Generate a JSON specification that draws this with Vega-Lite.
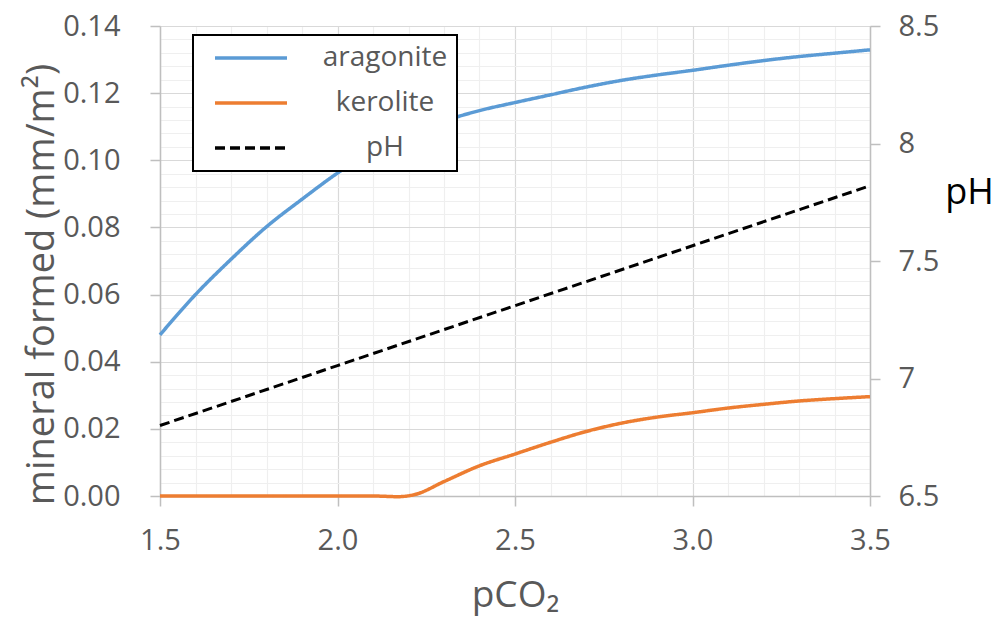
{
  "$schema": "https://vega.github.io/schema/vega-lite/v6.json",
  "width": 710,
  "height": 470,
  "autosize": {"type": "none"},
  "padding": {"left": 160, "top": 26, "right": 128, "bottom": 124},
  "background": "white",
  "config": {
    "view": {"stroke": null},
    "font": "Open Sans",
    "axis": {
      "labelFont": "Open Sans",
      "titleFont": "Open Sans",
      "labelColor": "#595959",
      "titleColor": "#595959",
      "labelFontSize": 29,
      "labelFlush": false,
      "labelOverlap": false,
      "domainColor": "#bfbfbf",
      "tickColor": "#bfbfbf",
      "gridColor": "#d9d9d9",
      "domainWidth": 1.5,
      "tickWidth": 1.5,
      "gridWidth": 1.2,
      "tickSize": 10,
      "titleFontWeight": "normal"
    }
  },
  "datasets": {
    "minerals": [
      {"pco2": 1.5, "value": 0.048, "series": "aragonite"},
      {"pco2": 1.6, "value": 0.0600, "series": "aragonite"},
      {"pco2": 1.7, "value": 0.0705, "series": "aragonite"},
      {"pco2": 1.8, "value": 0.0802, "series": "aragonite"},
      {"pco2": 1.9, "value": 0.0884, "series": "aragonite"},
      {"pco2": 2.0, "value": 0.0962, "series": "aragonite"},
      {"pco2": 2.1, "value": 0.1030, "series": "aragonite"},
      {"pco2": 2.2, "value": 0.1078, "series": "aragonite"},
      {"pco2": 2.3, "value": 0.1117, "series": "aragonite"},
      {"pco2": 2.4, "value": 0.1148, "series": "aragonite"},
      {"pco2": 2.5, "value": 0.1172, "series": "aragonite"},
      {"pco2": 2.6, "value": 0.1195, "series": "aragonite"},
      {"pco2": 2.7, "value": 0.1218, "series": "aragonite"},
      {"pco2": 2.8, "value": 0.1238, "series": "aragonite"},
      {"pco2": 2.9, "value": 0.1254, "series": "aragonite"},
      {"pco2": 3.0, "value": 0.1268, "series": "aragonite"},
      {"pco2": 3.1, "value": 0.1283, "series": "aragonite"},
      {"pco2": 3.2, "value": 0.1297, "series": "aragonite"},
      {"pco2": 3.3, "value": 0.1309, "series": "aragonite"},
      {"pco2": 3.4, "value": 0.1319, "series": "aragonite"},
      {"pco2": 3.5, "value": 0.1329, "series": "aragonite"},
      {"pco2": 1.5, "value": 0.0, "series": "kerolite"},
      {"pco2": 1.7, "value": 0.0, "series": "kerolite"},
      {"pco2": 1.9, "value": 0.0, "series": "kerolite"},
      {"pco2": 2.1, "value": 0.0, "series": "kerolite"},
      {"pco2": 2.17, "value": -0.0002, "series": "kerolite"},
      {"pco2": 2.22, "value": 0.0005, "series": "kerolite"},
      {"pco2": 2.3, "value": 0.0043, "series": "kerolite"},
      {"pco2": 2.4, "value": 0.0090, "series": "kerolite"},
      {"pco2": 2.5, "value": 0.0125, "series": "kerolite"},
      {"pco2": 2.6, "value": 0.0160, "series": "kerolite"},
      {"pco2": 2.7, "value": 0.0192, "series": "kerolite"},
      {"pco2": 2.8, "value": 0.0217, "series": "kerolite"},
      {"pco2": 2.9, "value": 0.0235, "series": "kerolite"},
      {"pco2": 3.0, "value": 0.0248, "series": "kerolite"},
      {"pco2": 3.1, "value": 0.0262, "series": "kerolite"},
      {"pco2": 3.2, "value": 0.0273, "series": "kerolite"},
      {"pco2": 3.3, "value": 0.0283, "series": "kerolite"},
      {"pco2": 3.4, "value": 0.0290, "series": "kerolite"},
      {"pco2": 3.5, "value": 0.0296, "series": "kerolite"}
    ],
    "ph": [
      {"pco2": 1.5, "ph": 6.80, "series": "pH"},
      {"pco2": 2.0, "ph": 7.055, "series": "pH"},
      {"pco2": 2.5, "ph": 7.31, "series": "pH"},
      {"pco2": 3.0, "ph": 7.565, "series": "pH"},
      {"pco2": 3.5, "ph": 7.82, "series": "pH"}
    ]
  },
  "layer": [
    {
      "data": {"name": "minerals"},
      "mark": {"type": "line", "opacity": 0},
      "encoding": {
        "x": {
          "field": "pco2", "type": "quantitative",
          "scale": {"domain": [1.5, 3.5], "nice": false, "zero": false},
          "axis": {
            "orient": "bottom", "grid": true, "gridColor": "#efefef", "gridWidth": 1.2,
            "values": [1.6, 1.7, 1.8, 1.9, 2.1, 2.2, 2.3, 2.4, 2.6, 2.7, 2.8, 2.9, 3.1, 3.2, 3.3, 3.4],
            "labels": false, "ticks": false, "domain": false, "title": null
          }
        },
        "y": {
          "field": "value", "type": "quantitative",
          "scale": {"domain": [0, 0.14], "nice": false},
          "axis": {
            "orient": "left", "grid": true, "gridColor": "#efefef", "gridWidth": 1.2,
            "values": [0.004, 0.008, 0.012, 0.016, 0.024, 0.028, 0.032, 0.036, 0.044, 0.048, 0.052, 0.056, 0.064, 0.068, 0.072, 0.076, 0.084, 0.088, 0.092, 0.096, 0.104, 0.108, 0.112, 0.116, 0.124, 0.128, 0.132, 0.136],
            "labels": false, "ticks": false, "domain": false, "title": null
          }
        }
      }
    },
    {
      "data": {"name": "minerals"},
      "mark": {"type": "line", "strokeWidth": 3.5, "interpolate": "monotone"},
      "encoding": {
        "x": {
          "field": "pco2", "type": "quantitative",
          "scale": {"domain": [1.5, 3.5], "nice": false, "zero": false},
          "axis": {
            "orient": "bottom", "grid": true, "values": [1.5, 2.0, 2.5, 3.0, 3.5], "format": ".1f",
            "labelPadding": 20, "title": "pCO₂", "titleFontSize": 37, "titlePadding": 22
          }
        },
        "y": {
          "field": "value", "type": "quantitative",
          "scale": {"domain": [0, 0.14], "nice": false},
          "axis": {
            "orient": "left", "grid": true, "values": [0, 0.02, 0.04, 0.06, 0.08, 0.1, 0.12, 0.14], "format": ".2f",
            "labelPadding": 30, "title": "mineral formed (mm/m²)", "titleFontSize": 38,
            "titleAngle": 270, "titleBaseline": "bottom", "titleAlign": "center",
            "titleX": -99, "titleY": 258
          }
        },
        "color": {
          "field": "series", "type": "nominal",
          "scale": {"domain": ["aragonite", "kerolite", "pH"], "range": ["#5b9bd5", "#ed7d31", "#000000"]},
          "legend": {
            "title": null, "orient": "none", "legendX": 33, "legendY": 9,
            "fillColor": "white", "strokeColor": "black", "padding": 9,
            "symbolType": "M-3,0H3", "symbolSize": 576, "symbolStrokeWidth": 3.5, "symbolOffset": 35,
            "labelFontSize": 28, "labelColor": "#595959", "labelFont": "Open Sans",
            "labelAlign": "center", "labelOffset": 120, "rowPadding": 17,
            "encode": {"legend": {"update": {"strokeWidth": {"value": 2}}}}
          }
        },
        "strokeDash": {
          "field": "series", "type": "nominal",
          "scale": {"domain": ["aragonite", "kerolite", "pH"], "range": [[1, 0], [1, 0], [10, 5]]},
          "legend": {
            "title": null, "orient": "none", "legendX": 33, "legendY": 9,
            "fillColor": "white", "strokeColor": "black", "padding": 9,
            "symbolType": "M-3,0H3", "symbolSize": 576, "symbolStrokeWidth": 3.5, "symbolOffset": 35,
            "labelFontSize": 28, "labelColor": "#595959", "labelFont": "Open Sans",
            "labelAlign": "center", "labelOffset": 120, "rowPadding": 17,
            "encode": {"legend": {"update": {"strokeWidth": {"value": 2}}}}
          }
        }
      }
    },
    {
      "data": {"name": "ph"},
      "mark": {"type": "line", "strokeWidth": 3},
      "encoding": {
        "x": {
          "field": "pco2", "type": "quantitative",
          "scale": {"domain": [1.5, 3.5], "nice": false, "zero": false},
          "axis": null
        },
        "y": {
          "field": "ph", "type": "quantitative",
          "scale": {"domain": [6.5, 8.5], "nice": false, "zero": false},
          "axis": {
            "orient": "right", "grid": false, "values": [6.5, 7, 7.5, 8, 8.5], "format": ".1~f",
            "labelPadding": 18, "title": "pH", "titleAngle": 0, "titleColor": "#000000",
            "titleFontSize": 36, "titleAlign": "center", "titleBaseline": "middle",
            "titleX": 99, "titleY": 166
          }
        },
        "color": {
          "field": "series", "type": "nominal",
          "scale": {"domain": ["aragonite", "kerolite", "pH"], "range": ["#5b9bd5", "#ed7d31", "#000000"]}
        },
        "strokeDash": {
          "field": "series", "type": "nominal",
          "scale": {"domain": ["aragonite", "kerolite", "pH"], "range": [[1, 0], [1, 0], [10, 5]]}
        }
      }
    }
  ],
  "resolve": {
    "scale": {"y": "independent"},
    "axis": {"x": "independent", "y": "independent"}
  }
}
